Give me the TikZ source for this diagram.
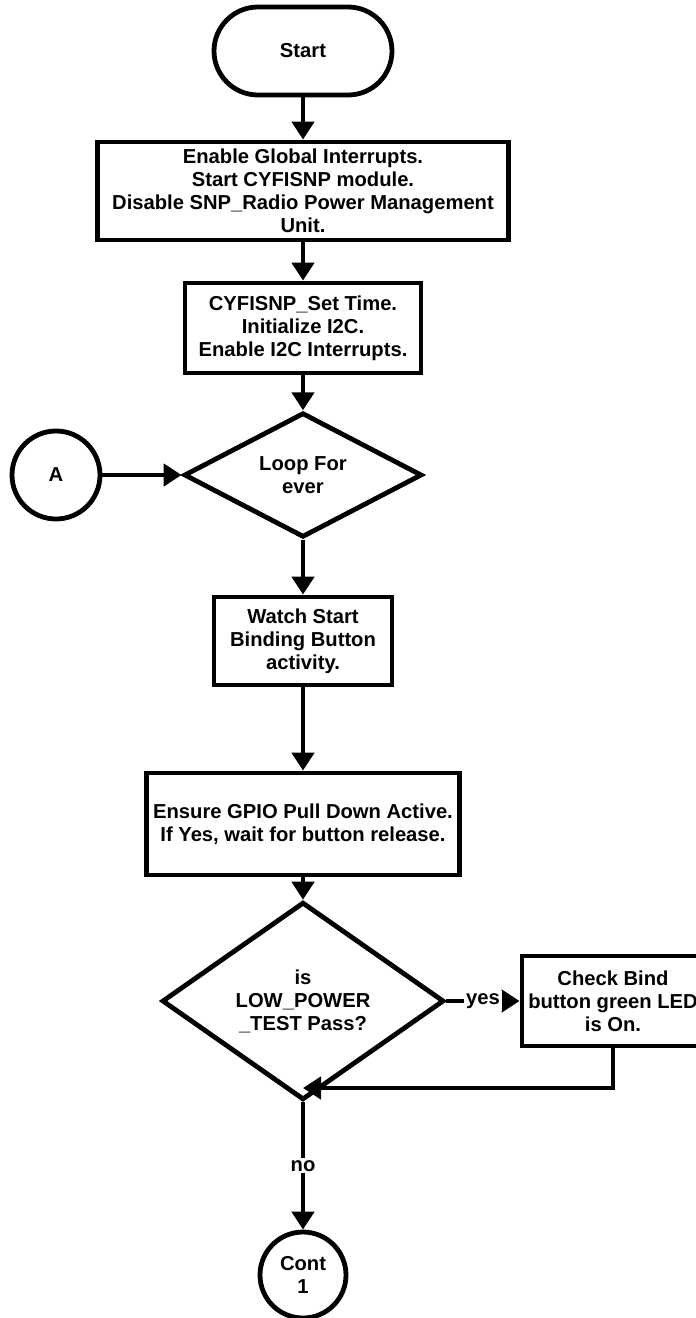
\documentclass[tikz,border=0pt]{standalone}
\usepackage{fontspec}
\setmainfont{Liberation Sans}
\usetikzlibrary{shapes.geometric,arrows.meta}

\begin{document}
\begin{tikzpicture}[x=0.5pt,y=-0.5pt,line width=2.4pt]
\tikzstyle{every node}=[draw,fill=white,align=center,inner sep=0pt,font=\bfseries\fontsize{10.1}{11.5}\selectfont]
\tikzstyle{arr}=[-{Triangle[width=11pt,length=9pt]}]
\tikzstyle{lbl}=[draw=none,inner sep=1pt]
\clip (0,0) rectangle (696,1318);
\node[rectangle,rounded corners=22pt,minimum width=89pt,minimum height=44pt](st) at (303,51) {Start};
\node[rectangle,minimum width=205.5pt,minimum height=49pt](b1) at (303,191) {Enable Global Interrupts.\\Start CYFISNP module.\\Disable SNP\_Radio Power Management\\Unit.};
\node[rectangle,minimum width=118pt,minimum height=45pt](b2) at (303,328) {CYFISNP\_Set Time.\\Initialize I2C.\\Enable I2C Interrupts.};
\node[diamond,minimum width=119pt,minimum height=60pt](d1) at (303,475) {Loop For\\ever};
\node[circle,minimum size=44pt](ca) at (56,475) {A};
\node[rectangle,minimum width=89pt,minimum height=44pt](b3) at (303,641) {Watch Start\\Binding Button\\activity.};
\node[rectangle,minimum width=156.5pt,minimum height=51pt](b4) at (303,824) {Ensure GPIO Pull Down Active.\\If Yes, wait for button release.};
\node[diamond,minimum width=141pt,minimum height=74pt](d2) at (303,1001) {is\\LOW\_POWER\\\_TEST Pass?};
\node[rectangle,minimum width=91pt,minimum height=45pt](b5) at (613,1001) {Check Bind\\button green LED\\is On.};
\node[circle,minimum size=43pt](c1) at (303,1275) {Cont\\1};
\coordinate (jn) at (303,1088);
% main column
\draw[arr] (st) -- (b1);
\draw[arr] (b1) -- (b2);
\draw[arr] (b2) -- (d1);
\draw[arr] (ca) -- (d1);
\draw[arr] (d1) -- (b3);
\draw[arr] (b3) -- (b4);
\draw[arr] (b4) -- (d2);
% test branch
\draw[arr] (d2) -- node[lbl]{yes} (b5);
\draw[arr] (b5.south) |- (jn);
\draw[arr] (d2) -- node[lbl]{no} (c1);
\end{tikzpicture}
\end{document}
